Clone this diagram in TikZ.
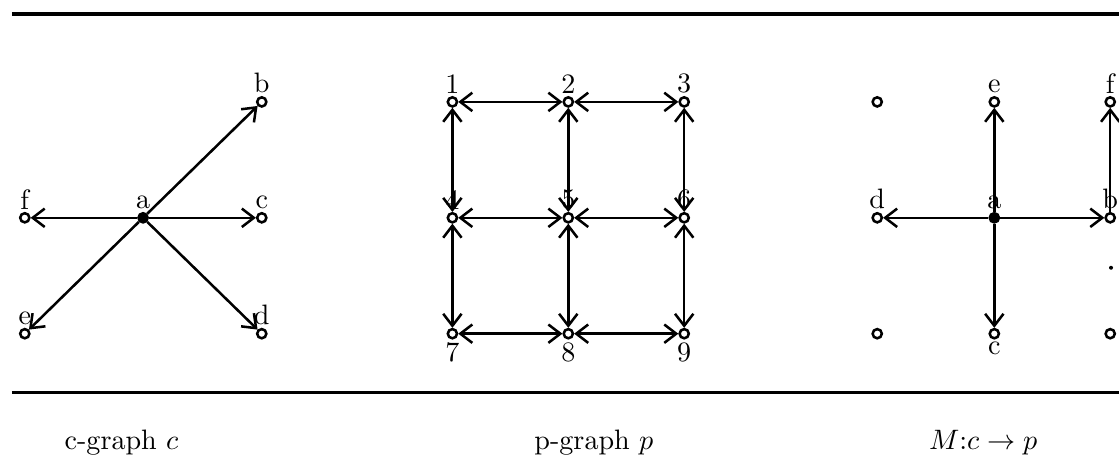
\documentclass[tikz,border=0pt]{standalone}
\usepackage{tikz}
\usetikzlibrary{positioning,arrows.meta}

\begin{document}
\begin{tikzpicture}[
  >={Straight Barb[length=1.5mm,width=2.3mm,line width=0.9pt]},
  edge/.style={line width=0.9pt},
  vtx/.style={draw, circle, line width=0.9pt, fill=white, inner sep=0pt, minimum size=1.15mm},
  hub/.style={vtx, fill=black},
  lab/.style={inner sep=0.8pt, font=\normalsize},
  rule/.style={line width=1.2pt}
]
\useasboundingbox (0,0) rectangle (140mm,-58.7mm);

\draw[rule] (1.5mm,-1.75mm) coordinate (rtl) -- (140mm,-1.75mm) coordinate (rtr);
\draw[rule] (1.5mm,-49.1mm) coordinate (rbl) -- (140mm,-49.1mm) coordinate (rbr);

% c-graph
\node[hub, label={[lab]above:a}] (ca) at (17.9mm,-27.25mm) {};
\node[vtx, label={[lab]above:b}] (cb) at (32.75mm,-12.75mm) {};
\node[vtx, label={[lab]above:c}] (cc) at (32.75mm,-27.25mm) {};
\node[vtx, label={[lab]above:d}] (cd) at (32.75mm,-41.75mm) {};
\node[vtx, label={[lab]above:e}] (ce) at (3.1mm,-41.75mm) {};
\node[vtx, label={[lab]above:f}] (cf) at (3.1mm,-27.25mm) {};

\draw[edge,->] (ca) -- (cb);
\draw[edge,->] (ca) -- (cc);
\draw[edge,->] (ca) -- (cd);
\draw[edge,->] (ca) -- (ce);
\draw[edge,->] (ca) -- (cf);

% p-graph
\node[vtx, label={[lab]above:1}] (p1) at (56.6mm,-12.75mm) {};
\node[vtx, label={[lab]above:2}] (p2) at (71.1mm,-12.75mm) {};
\node[vtx, label={[lab]above:3}] (p3) at (85.6mm,-12.75mm) {};
\node[vtx, label={[lab]above:4}] (p4) at (56.6mm,-27.25mm) {};
\node[vtx, label={[lab]above:5}] (p5) at (71.1mm,-27.25mm) {};
\node[vtx, label={[lab]above:6}] (p6) at (85.6mm,-27.25mm) {};
\node[vtx, label={[lab]below:7}] (p7) at (56.6mm,-41.75mm) {};
\node[vtx, label={[lab]below:8}] (p8) at (71.1mm,-41.75mm) {};
\node[vtx, label={[lab]below:9}] (p9) at (85.6mm,-41.75mm) {};

\draw[edge,<->] (p1) -- (p2);
\draw[edge,<->] (p2) -- (p3);
\draw[edge,<->] (p4) -- (p5);
\draw[edge,<->] (p5) -- (p6);
\draw[edge,<->] (p7) -- (p8);
\draw[edge,<->] (p8) -- (p9);
\draw[edge,<->] (p1) -- (p4);
\draw[edge,<->] (p4) -- (p7);
\draw[edge,<->] (p2) -- (p5);
\draw[edge,<->] (p5) -- (p8);
\draw[edge,<->] (p3) -- (p6);
\draw[edge,<->] (p6) -- (p9);

% mapping M
\node[vtx] (m11) at (109.75mm,-12.75mm) {};
\node[vtx, label={[lab]above:e}] (me) at (124.4mm,-12.75mm) {};
\node[vtx, label={[lab]above:f}] (mf) at (138.9mm,-12.75mm) {};
\node[vtx, label={[lab]above:d}] (md) at (109.75mm,-27.25mm) {};
\node[hub, label={[lab]above:a}] (ma) at (124.4mm,-27.25mm) {};
\node[vtx, label={[lab]above:b}] (mb) at (138.9mm,-27.25mm) {};
\node[vtx] (m31) at (109.75mm,-41.75mm) {};
\node[vtx, label={[lab]below:c}] (mc) at (124.4mm,-41.75mm) {};
\node[vtx] (m33) at (138.9mm,-41.75mm) {};
\node[fill, circle, inner sep=0pt, minimum size=0.5mm] (mdot) at (139mm,-33.5mm) {};

\draw[edge,->] (ma) -- (me);
\draw[edge,->] (ma) -- (mc);
\draw[edge,->] (ma) -- (md);
\draw[edge,->] (ma) -- (mb);
\draw[edge,->] (mb) -- (mf);

% captions
\node[anchor=base] (capc) at (15.2mm,-56.3mm) {c-graph $c$};
\node[anchor=base] (capp) at (74.3mm,-56.3mm) {p-graph $p$};
\node[anchor=base] (capm) at (123mm,-56.3mm) {$M{:}c\rightarrow p$};
\end{tikzpicture}
\end{document}
